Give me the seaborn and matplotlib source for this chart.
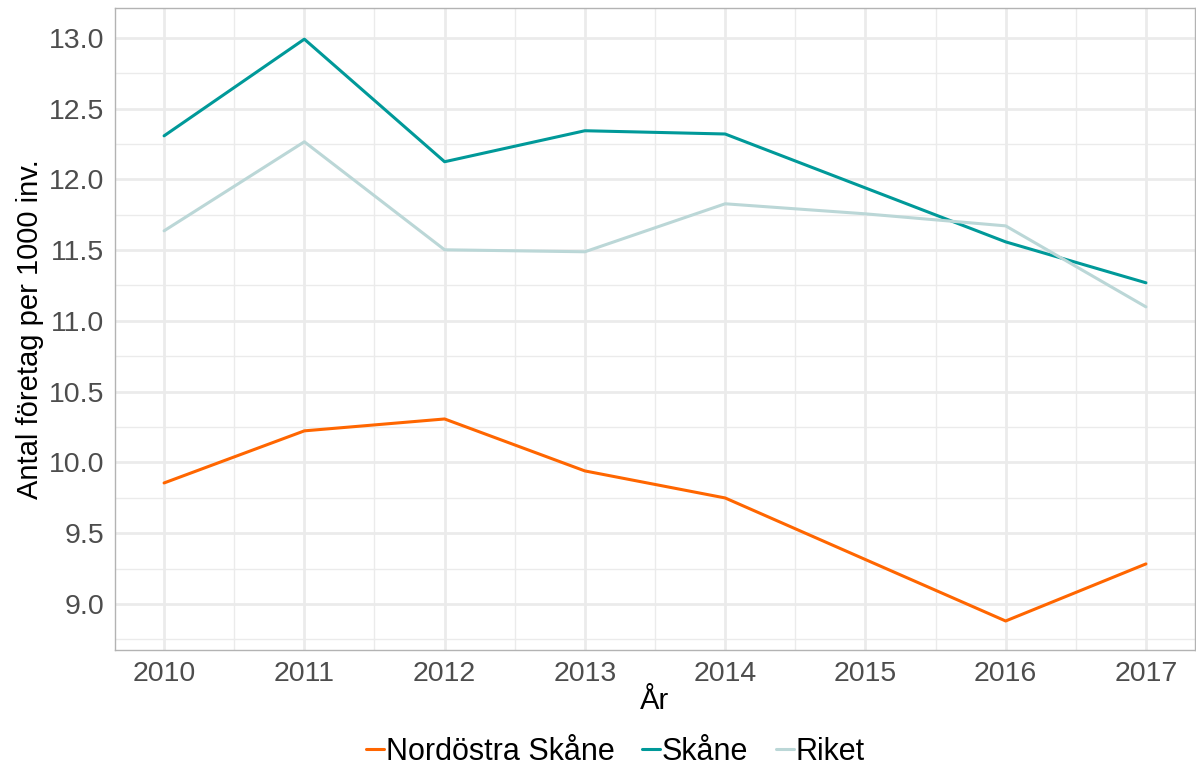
import numpy as np
import pandas as pd
import matplotlib
matplotlib.use("Agg")
import matplotlib.pyplot as plt
from matplotlib.ticker import MultipleLocator, FixedLocator
from matplotlib.lines import Line2D
import seaborn as sns

years = [2010, 2011, 2012, 2013, 2014, 2015, 2016, 2017]
nordostra = [9.855, 10.223, 10.307, 9.94, 9.749, 9.314, 8.88, 9.283]
skane = [12.307, 12.99, 12.124, 12.343, 12.32, 11.939, 11.558, 11.269]
riket = [11.636, 12.265, 11.502, 11.488, 11.827, 11.756, 11.671, 11.099]
series_names = ["Nordöstra Skåne", "Skåne", "Riket"]
colors = ["#FF6600", "#009999", "#BBD7D7"]

df = pd.DataFrame({
    "År": years * 3,
    "värde": nordostra + skane + riket,
    "område": [n for n in series_names for _ in years],
})

sns.set_theme(style="white")
plt.rcParams["font.family"] = ["Liberation Sans", "DejaVu Sans"]

fig = plt.figure(figsize=(11.96, 7.68), dpi=100)
ax = fig.add_axes([115 / 1196, 1 - 650 / 768, 1080 / 1196, 642 / 768])

sns.lineplot(data=df, x="År", y="värde", hue="område", hue_order=series_names,
             palette=colors, linewidth=2.2, ax=ax, legend=False)

ax.set_xlim(2009.65, 2017.35)
ax.set_ylim(8.675, 13.21)
ax.xaxis.set_major_locator(FixedLocator(years))
ax.xaxis.set_minor_locator(MultipleLocator(0.5))
ax.yaxis.set_major_locator(MultipleLocator(0.5))
ax.yaxis.set_minor_locator(MultipleLocator(0.25))
ax.yaxis.set_major_formatter(matplotlib.ticker.FormatStrFormatter("%.1f"))

ax.grid(which="major", color="#EBEBEB", linewidth=2.0)
ax.grid(which="minor", color="#EBEBEB", linewidth=1.0)
ax.set_axisbelow(True)
for s in ax.spines.values():
    s.set_color("#B3B3B3")
    s.set_linewidth(1.0)

ax.tick_params(axis="both", which="major", length=5, width=1, color="#B3B3B3",
               labelsize=20.5, labelcolor="#4D4D4D", pad=3)
ax.tick_params(axis="both", which="minor", length=0)

ax.set_xlabel("År", fontsize=21, color="black", labelpad=0)
ax.set_ylabel("Antal företag per 1000 inv.", fontsize=21, color="black", labelpad=3)

handles = [Line2D([0], [0], color=c, linewidth=2.2) for c in colors]
leg = fig.legend(handles, series_names, loc="center", bbox_to_anchor=(0.5145, 1 - 752 / 768),
                 ncol=3, frameon=False, fontsize=22, handlelength=0.6, handletextpad=0.05,
                 columnspacing=0.9)
for t in leg.get_texts():
    t.set_color("black")

fig.savefig("out.png", dpi=100, facecolor="white")
